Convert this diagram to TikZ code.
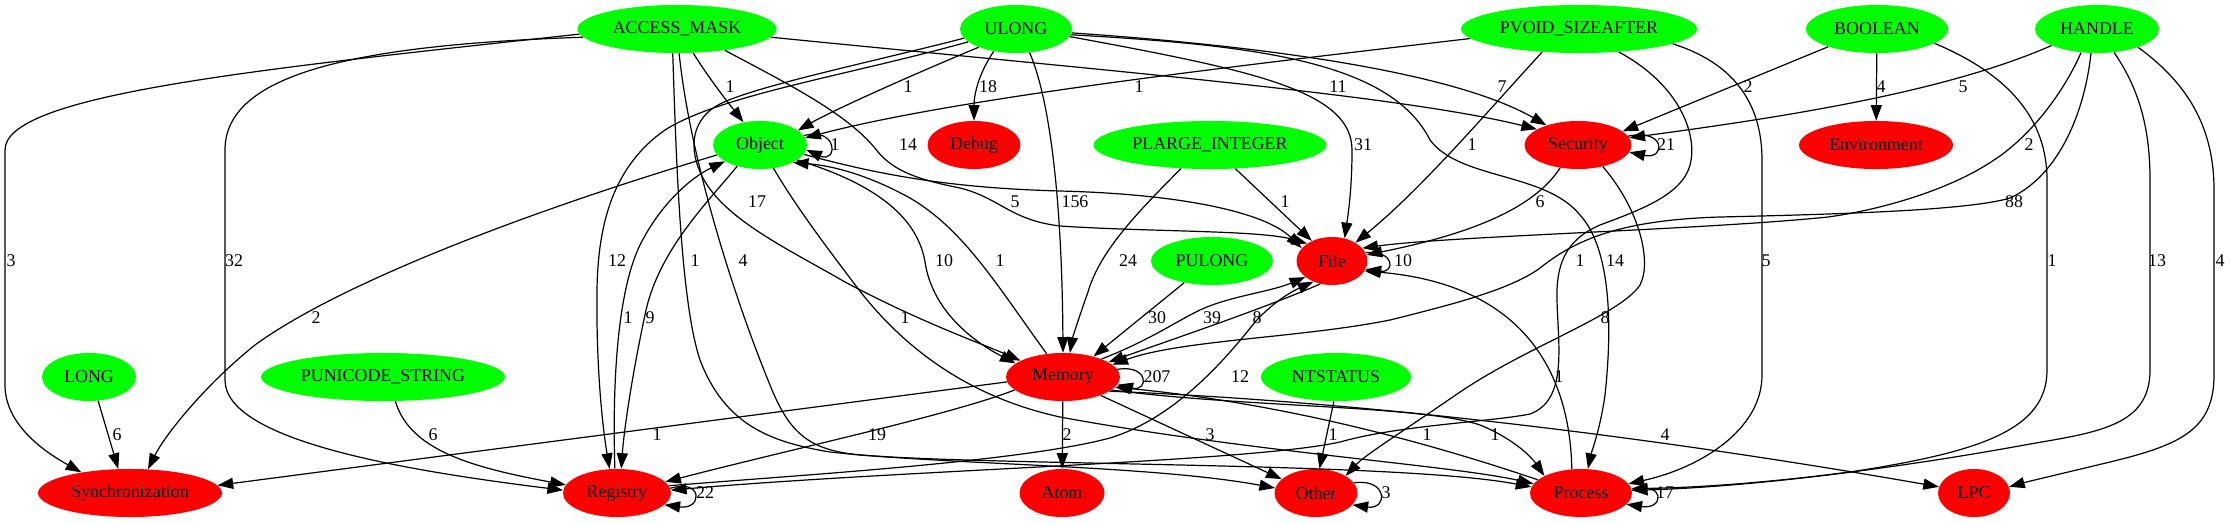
\documentclass[tikz,border=0pt]{standalone}
\usepackage{fontspec}
\setmainfont{Liberation Serif}
\usetikzlibrary{arrows.meta,shapes.geometric}
\definecolor{gvgreen}{RGB}{0,255,0}
\definecolor{gvred}{RGB}{255,0,0}
\begin{document}
\begin{tikzpicture}[x=0.70345pt,y=-0.70345pt,
  every node/.style={font=\fontsize{12.6}{15}\selectfont, inner sep=0pt},
  gn/.style={ellipse, fill=gvgreen, minimum height=33.8pt},
  rn/.style={ellipse, fill=gvred, minimum height=33.8pt},
  e/.style={line width=0.85pt, -{Triangle[length=11pt,width=7.8pt]}}]
\useasboundingbox (0,0) rectangle (2229,523);
\fill[white] (0,0) rectangle (2229,523);
% nodes
\node[gn, minimum width=140pt] (AM) at (677,29) {ACCESS\_MASK};
\node[gn, minimum width=78.8pt] (UL) at (1016,29) {ULONG};
\node[gn, minimum width=166pt] (PV) at (1579,29) {PVOID\_SIZEAFTER};
\node[gn, minimum width=99.9pt] (BO) at (1877,29) {BOOLEAN};
\node[gn, minimum width=87.2pt] (HA) at (2097,29) {HANDLE};
\node[gn, minimum width=66.1pt] (OB) at (760,145) {Object};
\node[rn, minimum width=65.4pt] (DE) at (974,145) {Debug};
\node[gn, minimum width=163.9pt] (PL) at (1210,145) {PLARGE\_INTEGER};
\node[rn, minimum width=75.3pt] (SE) at (1578,145) {Security};
\node[rn, minimum width=108.3pt] (EN) at (1876,145) {Environment};
\node[gn, minimum width=85.8pt] (PU) at (1212,261) {PULONG};
\node[rn, minimum width=49.9pt] (FI) at (1332,261) {File};
\node[gn, minimum width=66.1pt] (LO) at (89,377) {LONG};
\node[gn, minimum width=171.6pt] (PS) at (383,377) {PUNICODE\_STRING};
\node[rn, minimum width=80.2pt] (ME) at (1063,377) {Memory};
\node[gn, minimum width=105.5pt] (NT) at (1336,377) {NTSTATUS};
\node[rn, minimum width=129.4pt] (SY) at (130,493) {Synchronization};
\node[rn, minimum width=76pt] (RE) at (617,493) {Registry};
\node[rn, minimum width=59.8pt] (AT) at (1062,493) {Atom};
\node[rn, minimum width=58.4pt] (OT) at (1316,493) {Other};
\node[rn, minimum width=71.8pt] (PR) at (1581,493) {Process};
\node[rn, minimum width=50.6pt] (LP) at (1974,493) {LPC};
% edges from ACCESS_MASK
\draw[e] (AM.183) .. controls (250,70) and (5,95) .. (5,150) -- (5,385) .. controls (5,425) and (45,452) .. (SY.157);
\draw[e] (AM.185) .. controls (350,45) and (225,75) .. (225,150) -- (225,380) .. controls (225,440) and (400,470) .. (RE.177);
\draw[e] (AM.-56) .. controls (710,80) and (730,105) .. (OB.126);
\draw[e] (AM.-24) .. controls (790,85) and (850,115) .. (878,152) .. controls (895,172) and (920,180) .. (960,188) .. controls (1000,198) and (1010,220) .. (1060,226) .. controls (1150,232) and (1260,230) .. (FI.145);
\draw[e] (AM.-5) .. controls (1100,70) and (1400,95) .. (SE.159);
\draw[e] (AM.-100) .. controls (676,150) and (680,300) .. (700,360) .. controls (725,425) and (770,442) .. (830,452) .. controls (950,465) and (1150,465) .. (OT.173);
\draw[e] (AM.-85) .. controls (690,160) and (735,300) .. (770,385) .. controls (790,435) and (810,450) .. (860,455) .. controls (1000,466) and (1400,462) .. (PR.173);
% edges from ULONG
\draw[e] (UL.-154) .. controls (900,80) and (830,112) .. (OB.21);
\draw[e] (UL.-135) .. controls (978,75) and (974,95) .. (DE.north);
\draw[e] (UL.-60) .. controls (1050,100) and (1062,200) .. (ME.north);
\draw[e] (UL.-8) .. controls (1250,70) and (1352,90) .. (1352,150) .. controls (1352,190) and (1348,215) .. (FI.61);
\draw[e] (UL.-4) .. controls (1250,45) and (1450,70) .. (SE.148);
\draw[e] (UL.-6) .. controls (1250,45) and (1390,60) .. (1430,140) .. controls (1460,180) and (1545,172) .. (1580,215) .. controls (1612,250) and (1612,330) .. (1605,395) .. controls (1600,430) and (1592,450) .. (PR.74);
\draw[e] (UL.-165) .. controls (850,75) and (720,95) .. (665,130) .. controls (615,165) and (598,220) .. (597,290) .. controls (596,370) and (603,430) .. (RE.107);
\draw[e] (UL.-170) .. controls (880,60) and (760,85) .. (722,103) .. controls (690,118) and (688,150) .. (703,178) .. controls (725,220) and (790,250) .. (845,282) .. controls (920,322) and (985,345) .. (ME.159);
% edges from PVOID_SIZEAFTER
\draw[e] (PV.-175) .. controls (1200,70) and (950,100) .. (OB.9);
\draw[e] (PV.-148) .. controls (1480,120) and (1420,190) .. (FI.38);
\draw[e] (PV.-30) .. controls (1680,85) and (1698,135) .. (1690,165) .. controls (1682,195) and (1640,210) .. (1600,225) .. controls (1565,240) and (1556,265) .. (1557,300) .. controls (1558,345) and (1568,400) .. (1530,414) .. controls (1490,422) and (1400,425) .. (1340,442) .. controls (1250,462) and (900,470) .. (RE.3);
\draw[e] (PV.-9) .. controls (1740,65) and (1762,110) .. (1762,160) -- (1762,375) .. controls (1762,430) and (1700,468) .. (PR.11);
% BOOLEAN
\draw[e] (BO.-160) -- (SE.17);
\draw[e] (BO) -- (EN);
\draw[e] (BO.-14) .. controls (2010,75) and (2047,120) .. (2047,180) -- (2047,370) .. controls (2047,430) and (1980,452) .. (1850,472) .. controls (1750,485) and (1680,488) .. (PR.5);
% HANDLE
\draw[e] (HA.-160) .. controls (1950,90) and (1800,115) .. (SE.8);
\draw[e] (HA.-124) .. controls (2060,100) and (2025,140) .. (1994,160) .. controls (1950,190) and (1880,210) .. (1828,217) .. controls (1700,230) and (1450,236) .. (FI.23);
\draw[e] (HA.-104) .. controls (2085,110) and (2060,175) .. (2010,198) .. controls (1970,210) and (1850,214) .. (1720,217) .. controls (1620,220) and (1575,240) .. (1540,268) .. controls (1510,290) and (1450,305) .. (1390,320) .. controls (1300,338) and (1180,340) .. (ME.14);
\draw[e] (HA.-54) .. controls (2140,90) and (2150,130) .. (2150,180) -- (2150,370) .. controls (2150,425) and (2100,432) .. (2030,444) .. controls (1900,468) and (1750,487) .. (PR.3);
\draw[e] (HA.-24) .. controls (2190,85) and (2214,130) .. (2214,190) -- (2214,375) .. controls (2214,430) and (2180,445) .. (2110,462) .. controls (2060,474) and (2030,481) .. (LP.10);
% Object
\draw[e] (OB.12) .. controls (838,126) and (838,164) .. (OB.-6);
\draw[e] (OB.-167) .. controls (500,220) and (330,290) .. (255,345) .. controls (205,385) and (165,435) .. (SY.53);
\draw[e] (RE.95) .. controls (612,380) and (618,290) .. (640,245) .. controls (660,205) and (690,178) .. (OB.-155);
\draw[e] (OB.-137) .. controls (705,205) and (660,250) .. (646,310) .. controls (632,375) and (624,430) .. (RE.80);
\draw[e] (OB.-22) .. controls (880,185) and (918,220) .. (925,262) .. controls (933,315) and (980,345) .. (ME.164);
\draw[e] (ME.125) .. controls (1000,290) and (965,230) .. (910,198) .. controls (870,176) and (835,166) .. (OB.-28);
\draw[e] (OB.-12) .. controls (880,175) and (950,188) .. (1060,191) .. controls (1180,194) and (1265,212) .. (FI.157);
\draw[e] (OB.-60) .. controls (795,205) and (825,245) .. (850,278) .. controls (895,340) and (960,395) .. (1060,417) .. controls (1250,452) and (1450,465) .. (PR.169);
% PLARGE_INTEGER
\draw[e] (PL.-43) -- (FI.135);
\draw[e] (PL.-141) .. controls (1140,210) and (1100,250) .. (1088,292) .. controls (1078,320) and (1072,340) .. (ME.74);
% Security
\draw[e] (SE.10) .. controls (1666,128) and (1666,160) .. (SE.-8);
\draw[e] (SE.-128) .. controls (1530,215) and (1450,238) .. (FI.10);
\draw[e] (SE.-41) .. controls (1640,210) and (1652,262) .. (1640,285) .. controls (1620,315) and (1530,345) .. (1460,392) .. controls (1405,430) and (1365,455) .. (OT.30);
% File / Memory
\draw[e] (FI.14) .. controls (1395,250) and (1395,273) .. (FI.-14);
\draw[e] (ME.25) .. controls (1150,340) and (1175,322) .. (1200,310) .. controls (1230,296) and (1270,292) .. (FI.-149);
\draw[e] (FI.-117) .. controls (1260,310) and (1170,340) .. (ME.18);
\draw[e] (RE.8) .. controls (800,475) and (1020,462) .. (1110,438) .. controls (1175,418) and (1225,360) .. (1255,322) .. controls (1275,300) and (1295,290) .. (FI.-132);
\draw[e] (PR.111) .. controls (1570,380) and (1530,285) .. (FI.-17);
\draw[e] (PU.-142) -- (ME.34);
\draw[e] (ME.8) .. controls (1149,364) and (1149,392) .. (ME.-8);
\draw[e] (ME.-175) -- (SY.5);
\draw[e] (ME.-165) .. controls (950,415) and (800,447) .. (RE.13);
\draw[e] (ME) -- (AT);
\draw[e] (ME.-26) -- (OT.158);
\draw[e] (ME.-15) .. controls (1250,408) and (1420,405) .. (1480,425) .. controls (1510,437) and (1530,455) .. (PR.155);
\draw[e] (PR.163) .. controls (1450,450) and (1300,405) .. (ME.-11);
\draw[e] (ME.-17) .. controls (1400,403) and (1700,445) .. (LP.170);
\draw[e] (NT.-95) -- (OT.82);
\draw[e] (LO.-69) -- (SY.116);
\draw[e] (PS.-63) .. controls (410,450) and (470,467) .. (RE.171);
\draw[e] (RE.5) .. controls (703,478) and (703,510) .. (RE.-14);
\draw[e] (OT.15) .. controls (1388,478) and (1388,510) .. (OT.-18);
\draw[e] (PR.3) .. controls (1665,480) and (1665,510) .. (PR.-14);
% labels
\node (l1) at (730,87) {1};
\node (l2) at (908,87) {1};
\node (l3) at (988,87) {18};
\node (l4) at (1139,87) {1};
\node (l5) at (1338,87) {11};
\node (l6) at (1502,87) {7};
\node (l7) at (1748,87) {2};
\node (l8) at (1881,87) {4};
\node (l9) at (1963,87) {5};
\node (l10) at (835,145) {1};
\node (l11) at (908,145) {14};
\node (l12) at (1363,145) {31};
\node (l13) at (1472,145) {1};
\node (l14) at (1666,145) {21};
\node (l15) at (2029,145) {2};
\node (l16) at (757,202) {17};
\node (l17) at (1015,202) {5};
\node (l18) at (1075,202) {156};
\node (l19) at (1285,202) {1};
\node (l20) at (1540,202) {6};
\node (l21) at (2014,202) {88};
\node (l22) at (11,261) {3};
\node (l23) at (234,261) {32};
\node (l24) at (617,261) {12};
\node (l25) at (695,261) {1};
\node (l26) at (743,261) {4};
\node (l27) at (944,261) {10};
\node (l28) at (1000,261) {1};
\node (l29) at (1128,261) {24};
\node (l30) at (1403,261) {10};
\node (l31) at (1580,261) {1};
\node (l32) at (1615,261) {14};
\node (l33) at (1766,261) {5};
\node (l34) at (2052,261) {1};
\node (l35) at (2157,261) {13};
\node (l36) at (2220,261) {4};
\node (l37) at (316,318) {2};
\node (l38) at (628,318) {1};
\node (l39) at (650,318) {9};
\node (l40) at (905,318) {1};
\node (l41) at (1157,318) {30};
\node (l42) at (1212,318) {39};
\node (l43) at (1257,318) {8};
\node (l44) at (1605,318) {8};
\node (l45) at (1157,377) {207};
\node (l46) at (1240,377) {12};
\node (l47) at (1559,377) {1};
\node (l48) at (117,435) {6};
\node (l49) at (433,435) {6};
\node (l50) at (657,435) {1};
\node (l51) at (877,435) {19};
\node (l52) at (1067,435) {2};
\node (l53) at (1210,435) {3};
\node (l54) at (1333,435) {1};
\node (l55) at (1427,435) {1};
\node (l56) at (1495,435) {1};
\node (l57) at (1665,435) {4};
\node (l58) at (705,493) {22};
\node (l59) at (1386,493) {3};
\node (l60) at (1665,493) {17};
\end{tikzpicture}
\end{document}
